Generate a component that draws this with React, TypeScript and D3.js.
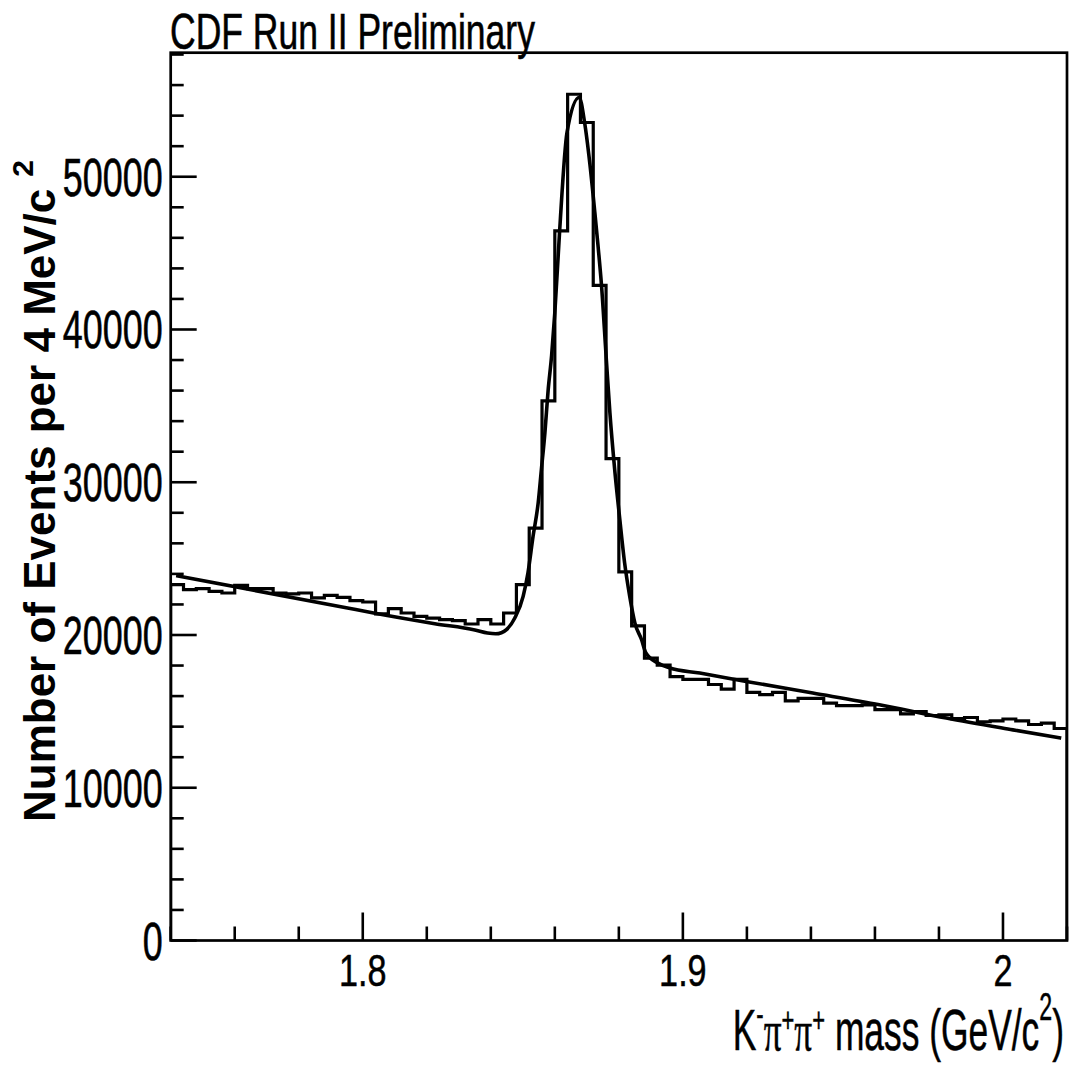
import React from 'react';
import * as d3 from 'd3';

// ---- data ----
const massLo = 1.74;
const massHi = 2.02;
const binWidth = 0.004; // 4 MeV bins
const yMax = 58120;

const counts = [
  23300, 22970, 23030, 22860, 22750, 23250, 23030, 23030, 22750, 22690,
  22750, 22430, 22600, 22460, 22250, 22160, 21380, 21720, 21440, 21220,
  21110, 21000, 20940, 20720, 21000, 20720, 21440, 23300, 27000, 35330,
  46450, 55400, 53550, 42890, 31550, 24130, 20600, 18490, 18030, 17270,
  17100, 17100, 16760, 16460, 17100, 16250, 16090, 16240, 15690, 15850,
  15850, 15540, 15370, 15370, 15430, 15110, 15110, 14840, 14990, 14730,
  14780, 14520, 14600, 14320, 14380, 14500, 14380, 14140, 14230, 13880,
];

const fitMass = [
  1.7417, 1.7944, 1.8038, 1.8225, 1.8350, 1.8390, 1.8415, 1.8433, 1.8449, 1.8475,
  1.8501, 1.8516, 1.8532, 1.8548, 1.8558, 1.8569, 1.8579, 1.8590, 1.8600, 1.8615,
  1.8638, 1.8676, 1.8693, 1.8709, 1.8725, 1.8735, 1.8746, 1.8761, 1.8772, 1.8787,
  1.8803, 1.8818, 1.8834, 1.8850, 1.8871, 1.8884, 1.8922, 1.8959, 1.9053, 1.9198,
  1.9406, 1.9614, 1.9823, 2.0031, 2.0182,
];
const fitValue = [
  23890, 21800, 21420, 20740, 20330, 20130, 20080, 20150, 20350, 21110,
  22530, 24060, 26460, 28650, 30830, 33240, 36000, 38300, 41100, 46450,
  52900, 55190, 53550, 50930, 47650, 45470, 42840, 38000, 34550, 30830,
  27560, 24720, 22530, 20790, 19690, 18850, 18160, 17840, 17510, 16960,
  16200, 15430, 14560, 13790, 13250,
];

const xMajor = [1.8, 1.9, 2.0];
const xMajorLabels = ['1.8', '1.9', '2'];
const titleText = 'CDF Run II Preliminary';
const yTitleText = 'Number of Events per 4 MeV/c';

export default function App() {
  const frame = { left: 170.7, right: 1067, top: 52.7, bottom: 940.5 };
  const x = d3.scaleLinear().domain([massLo, massHi]).range([frame.left, frame.right]);
  const y = d3.scaleLinear().domain([0, yMax]).range([frame.bottom, frame.top]);

  // histogram outline
  const histPts: [number, number][] = [];
  histPts.push([massLo, 0]);
  counts.forEach((c, i) => {
    const lo = massLo + i * binWidth;
    histPts.push([lo, c]);
    histPts.push([lo + binWidth, c]);
  });
  histPts.push([massLo + counts.length * binWidth, 0]);
  const histLine = d3
    .line<[number, number]>()
    .x((d) => x(d[0]))
    .y((d) => y(d[1]));

  const fitLine = d3
    .line<number>()
    .x((_, i) => x(fitMass[i]))
    .y((d) => y(d))
    .curve(d3.curveMonotoneX);

  const yTicks = y.ticks(29);
  const xTicks = x.ticks(14);
  const isMajorY = (v: number) => v % 10000 === 0;
  const isMajorX = (v: number) => Math.abs(v * 10 - Math.round(v * 10)) < 1e-6;

  const font = "'Liberation Sans', Arial, Helvetica, sans-serif";

  return (
    <svg
      width={1073}
      height={1068}
      style={{ position: 'absolute', left: 0, top: 0, background: '#fff' }}
      fontFamily={font}
    >
      <rect x={0} y={0} width={1073} height={1068} fill="#fff" />
      <defs>
        <clipPath id="plotclip">
          <rect
            x={frame.left}
            y={frame.top}
            width={frame.right - frame.left}
            height={frame.bottom - frame.top}
          />
        </clipPath>
      </defs>

      {/* ticks */}
      {yTicks.map((v) => (
        <line
          key={'yt' + v}
          x1={frame.left}
          x2={frame.left + (isMajorY(v) ? 26 : 13)}
          y1={y(v)}
          y2={y(v)}
          stroke="#000"
          strokeWidth={2.6}
        />
      ))}
      {xTicks.map((v) => (
        <line
          key={'xt' + v}
          x1={x(v)}
          x2={x(v)}
          y1={frame.bottom}
          y2={frame.bottom - (isMajorX(v) ? 28 : 14)}
          stroke="#000"
          strokeWidth={2.6}
        />
      ))}

      {/* data */}
      <g clipPath="url(#plotclip)">
        <path d={histLine(histPts) || ''} fill="none" stroke="#000" strokeWidth={3.2} strokeLinejoin="miter" />
        <path d={fitLine(fitValue) || ''} fill="none" stroke="#000" strokeWidth={3.6} strokeLinejoin="round" />
      </g>

      {/* frame */}
      <rect
        x={frame.left}
        y={frame.top}
        width={frame.right - frame.left}
        height={frame.bottom - frame.top}
        fill="none"
        stroke="#000"
        strokeWidth={2.7}
      />

      {/* y tick labels */}
      {yTicks.filter(isMajorY).map((v) => (
        <text
          key={'yl' + v}
          transform={`translate(${frame.left - 8},${y(v) + 19}) scale(0.665,1)`}
          textAnchor="end"
          fontSize={54}
          fill="#000"
          stroke="#000"
          strokeWidth={0.6}
        >
          {String(v)}
        </text>
      ))}

      {/* x tick labels */}
      {xMajor.map((v, i) => (
        <text
          key={'xl' + v}
          transform={`translate(${x(v)},${frame.bottom + 45}) scale(0.76,1)`}
          textAnchor="middle"
          fontSize={45}
          fill="#000"
          stroke="#000"
          strokeWidth={0.5}
        >
          {xMajorLabels[i]}
        </text>
      ))}

      {/* title */}
      <text
        transform="translate(170,49) scale(0.71,1)"
        fontSize={50}
        fill="#000"
        stroke="#000"
        strokeWidth={0.6}
      >
        {titleText}
      </text>

      {/* x axis title */}
      <text
        transform="translate(1064,1050) scale(0.61,1)"
        textAnchor="end"
        fontSize={58}
        fill="#000"
        stroke="#000"
        strokeWidth={0.5}
      >
        <tspan>K</tspan>
        <tspan fontSize={36} dy={-24}>-</tspan>
        <tspan fontFamily="'Liberation Serif', 'DejaVu Serif', serif" dy={24}>π</tspan>
        <tspan fontSize={36} dy={-18}>+</tspan>
        <tspan fontFamily="'Liberation Serif', 'DejaVu Serif', serif" dy={18}>π</tspan>
        <tspan fontSize={36} dy={-18}>+</tspan>
        <tspan dy={18}> mass (GeV/c</tspan>
        <tspan fontSize={38} dy={-30}>2</tspan>
        <tspan dy={30}>)</tspan>
      </text>

      {/* y axis title */}
      <text transform="translate(55,822) rotate(-90)" fontSize={44} fontWeight="bold" fill="#000">
        <tspan>{yTitleText}</tspan>
        <tspan fontSize={30} dx={12} dy={-22}>2</tspan>
      </text>
    </svg>
  );
}
